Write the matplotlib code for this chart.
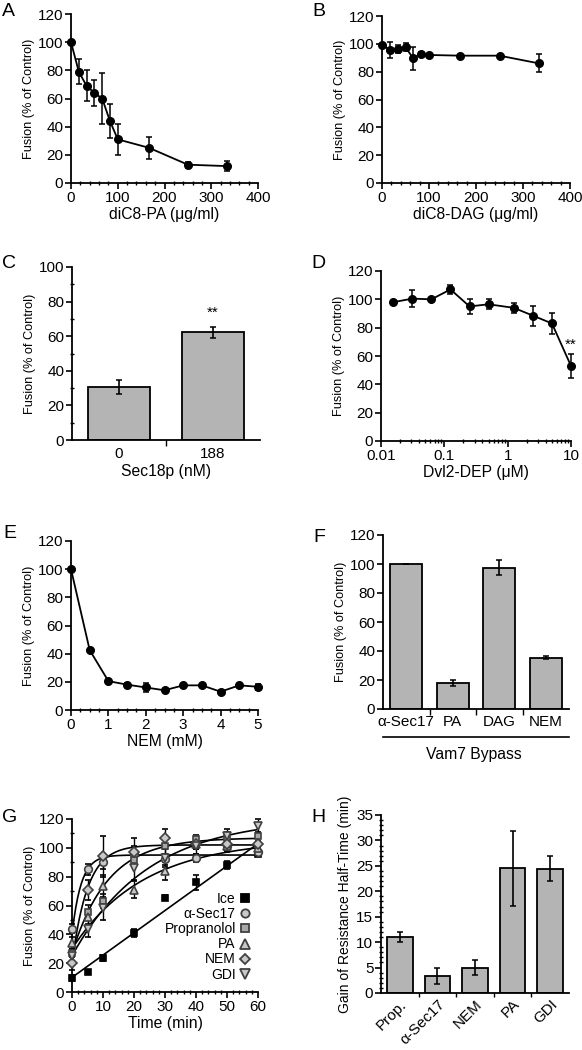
import numpy as np
import matplotlib
matplotlib.use('Agg')
import matplotlib.pyplot as plt
from matplotlib.lines import Line2D
from matplotlib.ticker import MultipleLocator, FixedLocator, NullFormatter, FuncFormatter, LogLocator

plt.rcParams['font.family'] = ['Liberation Sans', 'DejaVu Sans']

# ---------------- data ----------------
# A: diC8-PA titration
pa_conc = [0, 16.7, 33.3, 50, 66.7, 83.3, 100, 166.7, 250, 333.3]
pa_fusion = [100, 79, 69, 64, 60, 44, 31, 25, 13, 12]
pa_err = [0, 9, 11, 9, 18, 12, 11, 8, 2, 3.5]

# B: diC8-DAG titration
dag_conc = [0, 16.7, 33.3, 50, 66.7, 83.3, 100, 166.7, 250, 333.3]
dag_fusion = [99.5, 95.5, 96.5, 97.5, 89.5, 93, 92, 91.5, 91.5, 86]
dag_err = [0, 6, 3, 3, 8, 0.8, 0.8, 0.8, 0.8, 6.5]

# C: Sec18p
sec18_labels = ['0', '188']
sec18_fusion = [30.5, 62.3]
sec18_err = [4, 3.3]

# D: Dvl2-DEP
dvl_conc = [0.015625, 0.03125, 0.0625, 0.125, 0.25, 0.5, 1.25, 2.5, 5, 10]
dvl_fusion = [98, 100.5, 100, 107, 95, 96.5, 94, 88.5, 83, 53]
dvl_err = [1, 6, 1, 3, 5, 3.5, 3.5, 7, 7.5, 8.5]

# E: NEM titration
nem_conc = [0, 0.5, 1, 1.5, 2, 2.5, 3, 3.5, 4, 4.5, 5]
nem_fusion = [100, 42.5, 20.5, 18, 16, 14, 17.5, 17.5, 13, 17.5, 16.5]
nem_err = [0, 0.5, 1, 1, 3, 1, 1, 1, 1, 1, 2]

# F: Vam7 bypass
bypass_labels = ['\u03b1-Sec17', 'PA', 'DAG', 'NEM']
bypass_fusion = [100, 18, 97.5, 35.5]
bypass_err = [0, 2, 5, 1]

# G: gain of resistance kinetics
time_min = [0, 5, 10, 20, 30, 40, 50, 60]
series_names = ['Ice', '\u03b1-Sec17', 'Propranolol', 'PA', 'NEM', 'GDI']
ice = [9.5, 14, 23.5, 41, 65.5, 76, 88, 96]
sec17 = [44, 85, 90, 96, 92, 93, 101, 97]
propranolol = [27, 55.5, 63, 91.5, 101, 106, 107, 108]
pa_kin = [34, 52, 73.5, 71, 84, 103, 101, 100]
nem_kin = [20, 70.5, 94, 97, 107, 103, 103, 103]
gdi = [25, 44, 58, 86, 93, 101, 108, 115]
ice_err = [2, 1, 2, 3, 2, 5, 3, 2]
sec17_err = [3, 4, 5, 5, 4, 3, 3, 3]
propranolol_err = [3, 5, 5, 5, 5, 3, 4, 3]
pa_kin_err = [4, 5, 8, 6, 6, 4, 4, 4]
nem_kin_err = [5, 7, 14, 10, 6, 4, 4, 4]
gdi_err = [4, 6, 8, 8, 6, 5, 5, 5]
# one-phase association fit parameters (Y0, plateau, K) for sec17, prop, PA, NEM, GDI
fit_y0 = [40, 27, 30, 20, 25]
fit_plateau = [95, 107, 105.7, 102, 121]
fit_k = [0.34, 0.086, 0.0433, 0.2, 0.0408]

# H: half-times
ht_labels = ['Prop.', '\u03b1-Sec17', 'NEM', 'PA', 'GDI']
ht_values = [11.0, 3.4, 5.0, 24.5, 24.4]
ht_err = [1.0, 1.6, 1.5, 7.4, 2.45]

# ---------------- figure ----------------
W, H = 582, 1050
fig = plt.figure(figsize=(5.82, 10.5), dpi=100)

BAR = '#b4b4b4'
LW = 1.3
TICK_FS = 11
XLAB_FS = 11.3
YLAB_FS = 9.2


def add_ax(l, t, r, b):
    return fig.add_axes([l / W, 1 - b / H, (r - l) / W, (b - t) / H])


def style(ax):
    for s in ['top', 'right']:
        ax.spines[s].set_visible(False)
    for s in ['left', 'bottom']:
        ax.spines[s].set_linewidth(LW)
    ax.tick_params(which='major', direction='out', length=4, width=1.2,
                   labelsize=TICK_FS, pad=1.5)
    ax.tick_params(which='minor', direction='inout', length=2.5, width=1)
    ax.set_ylabel('Fusion (% of Control)', fontsize=YLAB_FS, labelpad=2)


def line_panel(ax, x, y, e):
    ax.errorbar(x, y, yerr=e, fmt='o-', color='black', ms=5.5, lw=1.3,
                elinewidth=1.1, capsize=2, capthick=1.1, clip_on=False, zorder=3)


def letter(x, y, s):
    fig.text(x / W, 1 - y / H, s, fontsize=14, ha='left', va='center')


# A
axA = add_ax(71, 14, 258, 183)
style(axA)
line_panel(axA, pa_conc, pa_fusion, pa_err)
axA.set_xlim(0, 400)
axA.set_ylim(0, 120)
axA.xaxis.set_major_locator(MultipleLocator(100))
axA.xaxis.set_minor_locator(MultipleLocator(20))
axA.yaxis.set_major_locator(MultipleLocator(20))
axA.set_xlabel('diC8-PA (\u03bcg/ml)', fontsize=XLAB_FS, labelpad=2)
letter(2, 11, 'A')

# B
axB = add_ax(382, 16, 570, 183)
style(axB)
line_panel(axB, dag_conc, dag_fusion, dag_err)
axB.set_xlim(0, 400)
axB.set_ylim(0, 120)
axB.xaxis.set_major_locator(MultipleLocator(100))
axB.xaxis.set_minor_locator(MultipleLocator(20))
axB.yaxis.set_major_locator(MultipleLocator(20))
axB.set_xlabel('diC8-DAG (\u03bcg/ml)', fontsize=XLAB_FS, labelpad=2)
letter(312, 11, 'B')

# C
axC = add_ax(72, 267, 260, 440)
style(axC)
xc = np.arange(len(sec18_labels))
axC.bar(xc, sec18_fusion, width=0.67, color=BAR, edgecolor='black', linewidth=LW,
        yerr=sec18_err, capsize=2, error_kw=dict(elinewidth=1.2, capthick=1.1))
axC.set_xlim(-0.5, 1.5)
axC.set_ylim(0, 100)
axC.set_xticks(xc)
axC.set_xticklabels(sec18_labels)
axC.tick_params(axis='x', which='major', length=0, pad=5)
axC.xaxis.set_minor_locator(FixedLocator([0.5]))
axC.tick_params(axis='x', which='minor', direction='out', length=4)
axC.yaxis.set_major_locator(MultipleLocator(20))
axC.yaxis.set_minor_locator(MultipleLocator(10))
axC.set_xlabel('Sec18p (nM)', fontsize=XLAB_FS, labelpad=2)
axC.text(1, sec18_fusion[1] + 7, '**', ha='center', va='bottom', fontsize=11)
letter(2, 263, 'C')

# D
axD = add_ax(381, 271, 571, 441)
style(axD)
line_panel(axD, dvl_conc, dvl_fusion, dvl_err)
axD.set_xscale('log')
axD.set_xlim(0.01, 10)
axD.set_ylim(0, 120)
axD.yaxis.set_major_locator(MultipleLocator(20))
axD.xaxis.set_major_locator(FixedLocator([0.01, 0.1, 1, 10]))
axD.xaxis.set_major_formatter(FuncFormatter(lambda v, p: '%g' % v))
axD.xaxis.set_minor_locator(LogLocator(base=10, subs=np.arange(2, 10)))
axD.xaxis.set_minor_formatter(NullFormatter())
axD.set_xlabel('Dvl2-DEP (\u03bcM)', fontsize=XLAB_FS, labelpad=2)
axD.text(10, 68, '**', ha='center', va='center', fontsize=11)
letter(311, 263, 'D')

# E
axE = add_ax(71, 541, 258, 710)
style(axE)
line_panel(axE, nem_conc, nem_fusion, nem_err)
axE.set_xlim(0, 5)
axE.set_ylim(0, 120)
axE.xaxis.set_major_locator(MultipleLocator(1))
axE.xaxis.set_minor_locator(MultipleLocator(0.25))
axE.yaxis.set_major_locator(MultipleLocator(20))
axE.set_xlabel('NEM (mM)', fontsize=XLAB_FS, labelpad=2)
letter(3, 534, 'E')

# F
axF = add_ax(383, 535, 569, 709)
style(axF)
xf = np.arange(len(bypass_labels))
axF.bar(xf, bypass_fusion, width=0.68, color=BAR, edgecolor='black', linewidth=LW,
        yerr=bypass_err, capsize=2, error_kw=dict(elinewidth=1.2, capthick=1.1))
axF.set_xlim(-0.5, 3.5)
axF.set_ylim(0, 120)
axF.set_xticks(xf)
axF.set_xticklabels(bypass_labels)
axF.tick_params(axis='x', which='major', length=0, pad=4)
axF.xaxis.set_minor_locator(FixedLocator([0.5, 1.5, 2.5]))
axF.tick_params(axis='x', which='minor', direction='out', length=4)
axF.yaxis.set_major_locator(MultipleLocator(20))
fig.add_artist(Line2D([383 / W, 569 / W], [1 - 737 / H, 1 - 737 / H],
                      transform=fig.transFigure, color='black', lw=1.2))
fig.text(474 / W, 1 - 755 / H, 'Vam7 Bypass', ha='center', va='center', fontsize=XLAB_FS)
letter(313, 537, 'F')

# G
axG = add_ax(72, 819, 258, 992)
style(axG)
kin_data = [ice, sec17, propranolol, pa_kin, nem_kin, gdi]
kin_err = [ice_err, sec17_err, propranolol_err, pa_kin_err, nem_kin_err, gdi_err]
markers = ['s', 'o', 's', '^', 'D', 'v']
msizes = [5, 5.5, 5, 6, 5, 6]
faces = ['black', '#c8c8c8', '#a8a8a8', '#c8c8c8', '#c8c8c8', '#c8c8c8']
edges = ['black', '#404040', '#404040', '#404040', '#404040', '#404040']
tt = np.linspace(0, 60, 200)
# linear fit for ice
coef = np.polyfit(time_min, ice, 1)
axG.plot([0, 60], np.polyval(coef, [0, 60]), color='black', lw=1.2, zorder=2)
for y0, pl, k in zip(fit_y0, fit_plateau, fit_k):
    axG.plot(tt, y0 + (pl - y0) * (1 - np.exp(-k * tt)), color='black', lw=1.2, zorder=2)
handles = []
for name, d, e, m, ms, fc, ec in zip(series_names, kin_data, kin_err, markers, msizes, faces, edges):
    axG.errorbar(time_min, d, yerr=e, fmt=m, ms=ms, mfc=fc, mec=ec, mew=1.2,
                 ecolor='black', elinewidth=1.0, capsize=2, capthick=1.0,
                 clip_on=False, zorder=3)
    handles.append(Line2D([], [], ls='none', marker=m, ms=ms + 0.5, mfc=fc, mec=ec, mew=1.3, label=name))
axG.legend(handles=handles, loc='lower right', frameon=False, markerfirst=False,
           fontsize=10, handlelength=0.8, handletextpad=0.3, labelspacing=0.08,
           borderaxespad=0.1, bbox_to_anchor=(1.0, 0.02))
axG.set_xlim(0, 60)
axG.set_ylim(0, 120)
axG.xaxis.set_major_locator(MultipleLocator(10))
axG.xaxis.set_minor_locator(MultipleLocator(2))
axG.yaxis.set_major_locator(MultipleLocator(20))
axG.yaxis.set_minor_locator(MultipleLocator(10))
axG.set_xlabel('Time (min)', fontsize=XLAB_FS, labelpad=2)
letter(2, 817, 'G')

# H
axH = add_ax(381, 815, 569, 993)
style(axH)
xh = np.arange(len(ht_labels))
axH.bar(xh, ht_values, width=0.68, color=BAR, edgecolor='black', linewidth=LW,
        yerr=ht_err, capsize=2, error_kw=dict(elinewidth=1.2, capthick=1.1))
axH.set_xlim(-0.5, 4.5)
axH.set_ylim(0, 35)
axH.set_xticks(xh)
axH.set_xticklabels(ht_labels, rotation=45, ha='right', rotation_mode='anchor')
axH.tick_params(axis='x', which='major', length=0, pad=3)
axH.xaxis.set_minor_locator(FixedLocator([0.5, 1.5, 2.5, 3.5]))
axH.tick_params(axis='x', which='minor', direction='out', length=3)
axH.yaxis.set_major_locator(MultipleLocator(5))
axH.yaxis.set_minor_locator(MultipleLocator(1))
axH.set_ylabel('Gain of Resistance Half-Time (min)', fontsize=10, labelpad=3)
letter(311, 817, 'H')

fig.savefig('out.png', dpi=100)
